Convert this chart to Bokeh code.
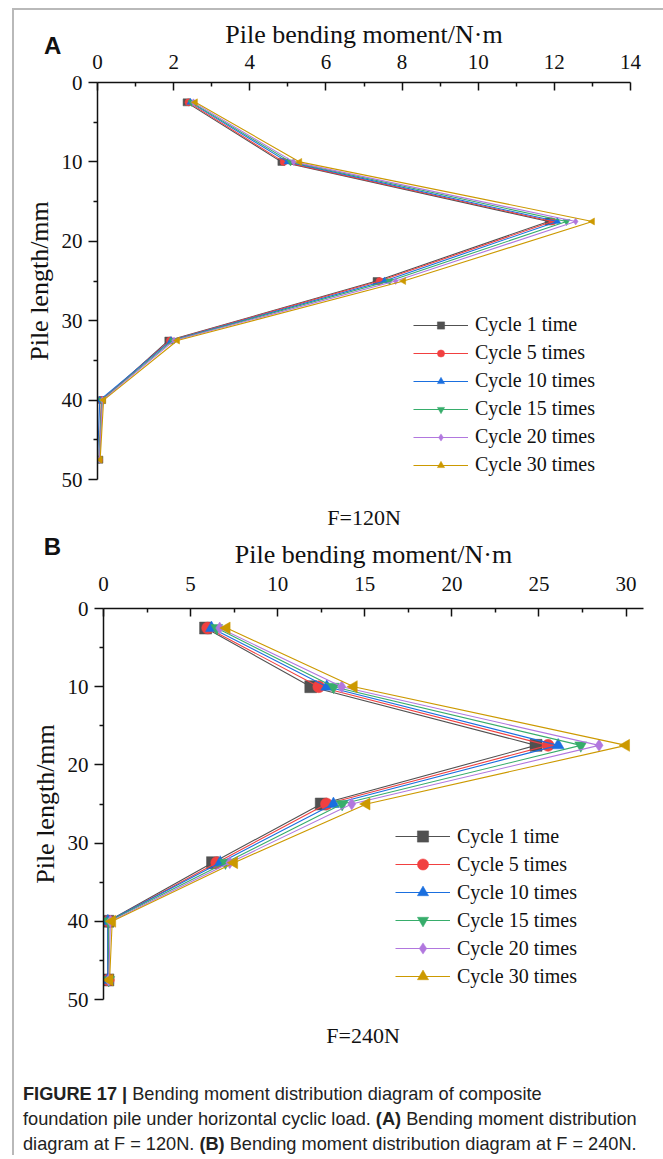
import numpy as np
from bokeh.plotting import figure
from bokeh.models import Range1d, Label, Legend, LegendItem, Div, FixedTicker
from bokeh.layouts import column, row
from bokeh.embed import file_html
from bokeh.resources import INLINE

# ---------------- data ----------------
depth = [2.5, 10, 17.5, 25, 32.5, 40, 47.5]
series_names = ["Cycle 1 time", "Cycle 5 times", "Cycle 10 times",
                "Cycle 15 times", "Cycle 20 times", "Cycle 30 times"]

# F = 120 N (panel A)
a_cycle1 = [2.34, 4.83, 11.85, 7.33, 1.86, 0.12, 0.05]
a_cycle5 = [2.39, 4.89, 11.95, 7.41, 1.90, 0.10, 0.04]
a_cycle10 = [2.44, 4.99, 12.08, 7.54, 1.93, 0.06, 0.00]
a_cycle15 = [2.47, 5.07, 12.32, 7.67, 1.97, 0.11, 0.04]
a_cycle20 = [2.52, 5.15, 12.56, 7.83, 2.01, 0.13, 0.05]
a_cycle30 = [2.57, 5.31, 13.00, 8.04, 2.10, 0.16, 0.07]

# F = 240 N (panel B)
b_cycle1 = [5.86, 11.90, 24.83, 12.50, 6.26, 0.25, 0.25]
b_cycle5 = [5.98, 12.36, 25.52, 12.80, 6.50, 0.30, 0.28]
b_cycle10 = [6.20, 12.82, 26.10, 13.20, 6.70, 0.25, 0.25]
b_cycle15 = [6.50, 13.20, 27.40, 13.70, 7.00, 0.30, 0.30]
b_cycle20 = [6.67, 13.68, 28.45, 14.25, 7.25, 0.40, 0.30]
b_cycle30 = [7.07, 14.37, 30.00, 15.10, 7.50, 0.50, 0.35]

a_ticks = [0, 2, 4, 6, 8, 10, 12, 14]
a_minor = [1, 3, 5, 7, 9, 11, 13]
b_ticks = [0, 5, 10, 15, 20, 25, 30]
b_minor = [2.5, 7.5, 12.5, 17.5, 22.5, 27.5]
y_ticks = [0, 10, 20, 30, 40, 50]
y_minor = [5, 15, 25, 35, 45]

# ---------------- styles ----------------
colors = ["#515151", "#F14040", "#1A6FDF", "#37AD6B", "#B177DE", "#CC9900"]
markers = ["square", "circle", "triangle", "inverted_triangle", "diamond", "triangle"]
angles = [0, 0, 0, 0, 0, np.pi / 2]
SERIF = "Liberation Serif"
FRAME_GRAY = "#b9b9b9"
W = 647


def make_panel(series, xmax, ticks, minor, letter, letter_xy, force_label, force_xy,
               height, left, right, top, bottom, msize, leg_xy, glyph_h, leg_spacing,
               tick_standoff, title_standoff):
    p = figure(width=W, height=height, x_range=Range1d(0, xmax), y_range=Range1d(50, 0),
               x_axis_location="above", output_backend="svg", toolbar_location=None,
               min_border_left=left, min_border_right=right,
               min_border_top=top, min_border_bottom=bottom)
    p.outline_line_color = None
    p.grid.visible = False
    p.background_fill_color = "white"
    p.border_fill_color = "white"

    xa = p.xaxis[0]
    xa.ticker = FixedTicker(ticks=ticks, minor_ticks=minor)
    xa.axis_label = "Pile bending moment/N·m"
    xa.major_tick_in = 8
    xa.major_tick_out = 0
    xa.minor_tick_in = 4
    xa.minor_tick_out = 0
    xa.major_label_standoff = tick_standoff
    xa.axis_label_standoff = title_standoff

    ya = p.yaxis[0]
    ya.ticker = FixedTicker(ticks=y_ticks, minor_ticks=y_minor)
    ya.axis_label = "Pile length/mm"
    ya.major_tick_in = 0
    ya.major_tick_out = 9
    ya.minor_tick_in = 0
    ya.minor_tick_out = 4
    ya.major_label_standoff = 6
    ya.axis_label_standoff = 5

    for ax in (xa, ya):
        ax.axis_line_width = 1.5
        ax.axis_line_color = "#111111"
        ax.major_tick_line_width = 1.5
        ax.major_tick_line_color = "#111111"
        ax.minor_tick_line_width = 1.5
        ax.minor_tick_line_color = "#111111"
        ax.major_label_text_font = SERIF
        ax.major_label_text_font_size = "21px"
        ax.major_label_text_color = "#111111"
        ax.axis_label_text_font = SERIF
        ax.axis_label_text_font_size = "26px"
        ax.axis_label_text_font_style = "normal"
        ax.axis_label_text_color = "#111111"

    items = []
    for name, xs, c, m, ang in zip(series_names, series, colors, markers, angles):
        r1 = p.line(xs, depth, line_color=c, line_width=1.1)
        r2 = p.scatter(xs, depth, marker=m, size=msize, angle=ang,
                       fill_color=c, line_color=c, line_width=0.5)
        items.append(LegendItem(label=name, renderers=[r1, r2]))

    leg = Legend(items=items, location=leg_xy)
    leg.background_fill_alpha = 0
    leg.border_line_color = None
    leg.padding = 0
    leg.margin = 0
    leg.spacing = leg_spacing
    leg.glyph_width = 55
    leg.glyph_height = glyph_h
    leg.label_height = glyph_h
    leg.label_standoff = 7
    leg.label_text_font = SERIF
    leg.label_text_font_size = "20px"
    leg.label_text_color = "#111111"
    p.add_layout(leg)

    p.add_layout(Label(x=letter_xy[0], y=letter_xy[1], text=letter,
                       text_font="Liberation Sans", text_font_style="bold",
                       text_font_size="24px", text_align="center", text_baseline="middle",
                       text_color="#111111"), "below")
    p.add_layout(Label(x=force_xy[0], y=force_xy[1], text=force_label, text_font=SERIF,
                       text_font_size="22px", text_align="center", text_baseline="middle",
                       text_color="#111111"), "below")
    return p


pA = make_panel([a_cycle1, a_cycle5, a_cycle10, a_cycle15, a_cycle20, a_cycle30],
                14, a_ticks, a_minor, "A", (-1.18, -4.65), "F=120N", (7, 54.8), 521,
                left=83, right=31, top=72, bottom=51, msize=7,
                leg_xy=(316, 3), glyph_h=18, leg_spacing=5,
                tick_standoff=14, title_standoff=3)
pB = make_panel([b_cycle1, b_cycle5, b_cycle10, b_cycle15, b_cycle20, b_cycle30],
                31, b_ticks, b_minor, "B", (-2.93, -7.9), "F=240N", (14.9, 54.6), 529,
                left=89, right=18, top=77, bottom=61, msize=12,
                leg_xy=(292, 9), glyph_h=28, leg_spacing=0,
                tick_standoff=18, title_standoff=5)

caption = Div(
    text=('<div style="margin:17px 0 0 4px; font-family:\'Liberation Sans Narrow\', '
          '\'Liberation Sans\', sans-serif; font-size:18.2px; line-height:25px; color:#222; '
          'white-space:nowrap;">'
          '<b>FIGURE 17 |</b> Bending moment distribution diagram of composite<br>'
          'foundation pile under horizontal cyclic load. <b>(A)</b> Bending moment distribution<br>'
          'diagram at F = 120N. <b>(B)</b> Bending moment distribution diagram at F = 240N.'
          '</div>'),
    width=W, height=95)

H = 521 + 529 + 95
top_line = Div(width=651, height=2, margin=(8, 0, 0, 12),
               styles={"background-color": FRAME_GRAY})
left_line = Div(width=2, height=H, margin=(0, 0, 0, 12),
                styles={"background-color": FRAME_GRAY})
right_line = Div(width=2, height=H, styles={"background-color": FRAME_GRAY})

body = column(row(pA), row(pB), caption, spacing=0)
layout = column(top_line, row(left_line, body, right_line, spacing=0), spacing=0)
open("out.html", "w").write(file_html(layout, INLINE))
